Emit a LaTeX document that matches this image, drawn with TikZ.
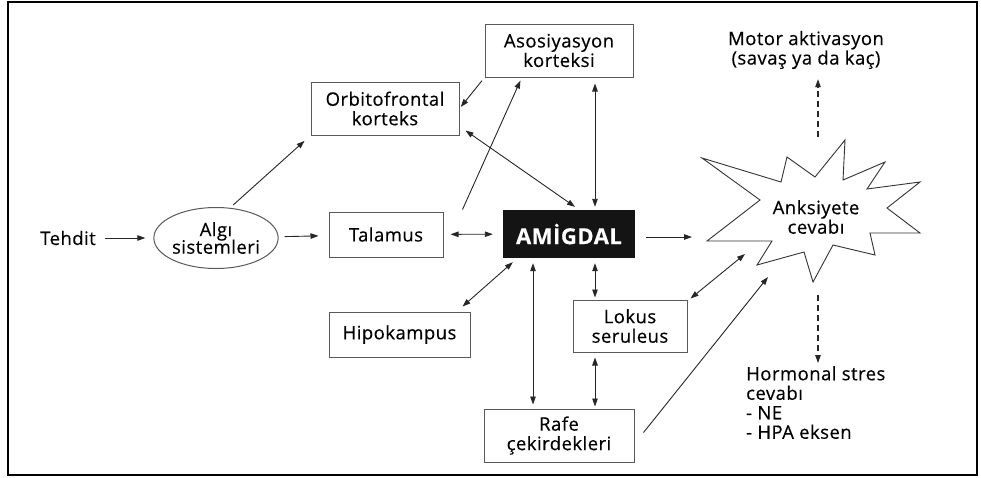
\documentclass[tikz,border=0pt]{standalone}
\usepackage{fontspec}
\setmainfont{Open Sans}[LetterSpace=2.5, FakeBold=0.35]
\usepackage{tikz}
\usetikzlibrary{arrows.meta, positioning, calc, shapes.geometric}
\newcommand{\figfont}{\fontsize{18.5}{19.5}\selectfont}
\tikzset{
  brainbox/.style={draw=black!65, line width=1pt, fill=white, align=center,
    inner sep=0pt, font=\figfont},
  amigbox/.style={fill=black!92, text=white, inner sep=0pt,
    font=\fontsize{22}{24}\selectfont\bfseries},
  brainlabel/.style={align=center, inner sep=2pt, font=\figfont},
  brainarrow/.style={-{Triangle[length=8pt, width=5.5pt]}, line width=0.9pt, black!85},
  braindarrow/.style={{Triangle[length=8pt, width=5.5pt]}-{Triangle[length=8pt, width=5.5pt]},
    line width=0.9pt, black!85},
  braindash/.style={brainarrow, dash pattern=on 6pt off 4pt, line width=1.1pt},
}

\begin{document}
\begin{tikzpicture}[x=1pt, y=-1pt]
  \useasboundingbox (0,0) rectangle (981,477);
  \draw[line width=1.4pt] (8,2) rectangle (977,475);

  % left part
  \node[brainlabel] (tehdit) at (68,238) {Tehdit};
  \node[brainbox, ellipse, minimum width=122pt, minimum height=61pt] (algi) at (216,238) {Algı\\[-2pt]sistemleri};
  \node[brainbox, minimum width=114pt, minimum height=45pt] (talamus) at (386,234.5) {Talamus};
  \node[brainbox, minimum width=148pt, minimum height=53pt] (orbito) at (385,108.5) {Orbitofrontal\\korteks};
  \node[brainbox, minimum width=141pt, minimum height=45pt] (hipo) at (399.5,334.5) {Hipokampus};

  % centre
  \node[amigbox, minimum width=132pt, minimum height=48pt] (amig) at (569,234) {AMİGDAL};
  \node[brainbox, minimum width=148pt, minimum height=53pt] (asos) at (559,50.5) {Asosiyasyon\\korteksi};
  \node[brainbox, minimum width=114pt, minimum height=52pt] (lokus) at (630,326) {Lokus\\seruleus};
  \node[brainbox, minimum width=150pt, minimum height=53pt] (rafe) at (559,435.5) {Rafe\\çekirdekleri};

  % anxiety star
  \draw[line width=0.9pt, black!80] (702,158) -- (760,200) -- (707,241) -- (772,241)
    -- (757,265) -- (804,252) -- (813,282) -- (833,245) -- (875,255) -- (870,233)
    -- (920,233) -- (887,208) -- (920,182) -- (867,189) -- (885,162) -- (843,180)
    -- (845,140) -- (815,177) -- (787,157) -- (781,182) -- cycle;
  \node[brainlabel] (anks) at (816,217) {Anksiyete\\cevabı};
  \coordinate (anksW) at (692,237);
  \coordinate (anksSW) at (745,254);
  \coordinate (anksS) at (768,277);
  \coordinate (anksN) at (818,137);
  \coordinate (anksB) at (818,295);

  \node[brainlabel] (motor) at (806,50) {Motor aktivasyon\\(savaş ya da kaç)};
  \node[brainlabel, align=left, anchor=north west, inner sep=0pt] (horm) at (746,366)
    {Hormonal stres\\cevabı\\- NE\\- HPA eksen};

  % connectors
  \draw[brainarrow, shorten <=7pt, shorten >=8pt] (tehdit) -- (algi);
  \draw[brainarrow, shorten <=6pt, shorten >=10pt] (algi) -- (talamus);
  \draw[brainarrow, shorten <=4pt, shorten >=8pt] (algi.65) -- (orbito.south west);
  \draw[brainarrow, shorten <=4pt, shorten >=2pt] (asos.south west) -- (orbito.east);
  \draw[brainarrow] ($(talamus.north east)+(19,-2)$) -- ($(asos.215)+(0,3)$);
  \draw[braindarrow] ($(orbito.south east)+(6,-5)$) -- ($(amig.north)+(6,-3)$);
  \draw[braindarrow] ($(asos.south)+(36,6)$) -- ($(amig.north)+(26,-3)$);
  \draw[braindarrow, shorten <=7pt, shorten >=10pt] (talamus) -- (amig);
  \draw[brainarrow] ($(amig.east)+(11,3)$) -- (anksW);
  \draw[braindarrow] ($(amig.south west)+(10,4)$) -- ($(hipo.north east)+(-8,-5)$);
  \draw[braindarrow] ($(amig.south)+(-36,5)$) -- ($(rafe.north)+(-26,-4)$);
  \draw[braindarrow] ($(amig.south)+(26,5)$) -- ($(lokus.north)+(-35,-2)$);
  \draw[braindarrow] ($(lokus.south)+(-35,5)$) -- ($(rafe.north)+(36,-2)$);
  \draw[braindarrow] ($(lokus.north east)+(3,-1)$) -- (anksSW);
  \draw[brainarrow] ($(rafe.east)+(9,-3)$) -- (anksS);
  \draw[braindash, shorten >=8pt] (anksN) -- (anksN |- motor.south);
  \draw[braindash, shorten >=3pt] (anksB) -- (anksB |- horm.north);
\end{tikzpicture}
\end{document}
